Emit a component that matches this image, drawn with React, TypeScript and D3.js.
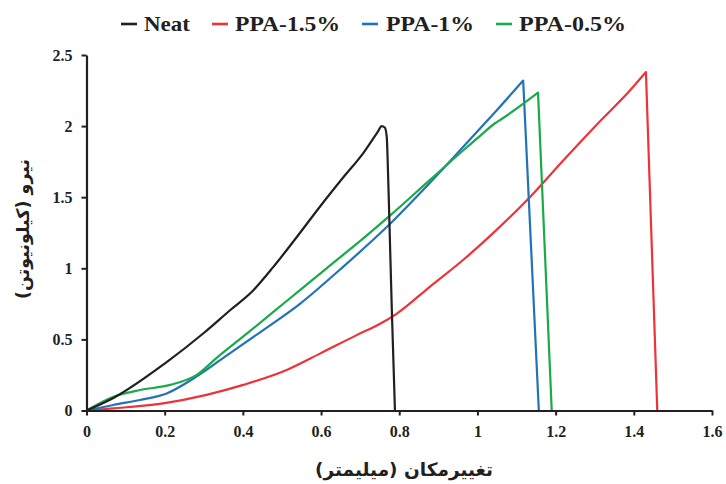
import React, { useRef, useEffect } from 'react';
import * as d3 from 'd3';

// series (displacement mm, force kN)
const seriesNames = ['Neat', 'PPA-1.5%', 'PPA-1%', 'PPA-0.5%'];
const seriesColors = ['#231f20', '#ee3338', '#2272b9', '#19aa4a'];

const neatX = [0, 0.07, 0.2, 0.3, 0.368, 0.423, 0.478, 0.538, 0.597, 0.657, 0.708, 0.745, 0.755, 0.763, 0.768, 0.771, 0.774, 0.781, 0.789];
const neatY = [0, 0.09, 0.33, 0.545, 0.707, 0.835, 1.01, 1.22, 1.433, 1.64, 1.81, 1.96, 2.0, 1.99, 1.925, 1.7, 1.41, 0.707, 0];

const ppa15X = [0, 0.069, 0.196, 0.307, 0.401, 0.512, 0.597, 0.691, 0.751, 0.793, 0.878, 0.964, 1.049, 1.134, 1.22, 1.305, 1.39, 1.431, 1.46];
const ppa15Y = [0, 0.015, 0.05, 0.11, 0.18, 0.285, 0.4, 0.53, 0.61, 0.68, 0.87, 1.06, 1.27, 1.5, 1.76, 2.01, 2.25, 2.38, 0];

const ppa1X = [0, 0.069, 0.137, 0.205, 0.282, 0.35, 0.444, 0.546, 0.648, 0.768, 0.878, 0.989, 1.049, 1.117, 1.157];
const ppa1Y = [0, 0.039, 0.074, 0.12, 0.24, 0.37, 0.55, 0.75, 0.99, 1.29, 1.6, 1.93, 2.11, 2.32, 0];

const ppa05X = [0, 0.069, 0.137, 0.214, 0.282, 0.333, 0.41, 0.512, 0.614, 0.708, 0.776, 0.878, 0.964, 1.006, 1.045, 1.062, 1.155, 1.19];
const ppa05Y = [0, 0.097, 0.144, 0.18, 0.25, 0.37, 0.54, 0.77, 1.0, 1.21, 1.37, 1.62, 1.83, 1.93, 2.02, 2.05, 2.235, 0];

const xTicks = [0, 0.2, 0.4, 0.6, 0.8, 1, 1.2, 1.4, 1.6];
const yTicks = [0, 0.5, 1, 1.5, 2, 2.5];

const xTitle = 'تغییرمکان (میلیمتر)';
const yTitle = 'نیرو (کیلونیوتن)';

const App = () => {
  const ref = useRef(null);

  useEffect(() => {
    if (ref.current) draw(ref);
  }, []);

  return (
    <svg
      ref={ref}
      width={726}
      height={484}
      style={{ position: 'absolute', left: 0, top: 0, background: '#fff' }}
    />
  );
};

export default App;

const draw = (svgRef) => {
  const svg = d3.select(svgRef.current);
  svg.selectAll('*').remove();

  const x = d3.scaleLinear().domain([0, 1.6]).range([86.5, 712]);
  const y = d3.scaleLinear().domain([0, 2.5]).range([410.5, 55]);
  const ink = '#231f20';
  const serif = '"Liberation Serif", "Times New Roman", serif';
  const persian = '"DejaVu Sans", "Noto Sans", sans-serif';

  const series = [
    { xs: neatX, ys: neatY, smoothAll: true },
    { xs: ppa15X, ys: ppa15Y },
    { xs: ppa1X, ys: ppa1Y },
    { xs: ppa05X, ys: ppa05Y }
  ];

  const smooth = d3
    .line()
    .x((d) => x(d[0]))
    .y((d) => y(d[1]))
    .curve(d3.curveMonotoneX);

  // draw order: red under, then blue, green, black on top
  [1, 2, 3, 0].forEach((i) => {
    const s = series[i];
    const pts = s.xs.map((v, k) => [v, s.ys[k]]);
    let d;
    if (s.smoothAll) {
      d = smooth(pts);
    } else {
      // smooth loading branch, then a straight drop at failure
      const last = pts[pts.length - 1];
      d = smooth(pts.slice(0, -1)) + `L${x(last[0])},${y(last[1])}`;
    }
    svg
      .append('path')
      .attr('d', d)
      .attr('fill', 'none')
      .attr('stroke', seriesColors[i])
      .attr('stroke-width', 2.2)
      .attr('stroke-linejoin', 'round');
  });

  const xAxis = svg
    .append('g')
    .attr('transform', `translate(0,${y(0)})`)
    .call(
      d3.axisBottom(x).tickValues(xTicks).tickSize(5).tickSizeOuter(0).tickPadding(10)
        .tickFormat(d3.format('~g'))
    );
  const yAxis = svg
    .append('g')
    .attr('transform', `translate(${x(0)},0)`)
    .call(
      d3.axisLeft(y).tickValues(yTicks).tickSize(5).tickSizeOuter(0).tickPadding(9)
        .tickFormat(d3.format('~g'))
    );

  [xAxis, yAxis].forEach((g) => {
    g.select('.domain').attr('stroke', ink).attr('stroke-width', 2.2);
    g.selectAll('.tick line').attr('stroke', ink).attr('stroke-width', 2);
    g.selectAll('.tick text')
      .attr('fill', ink)
      .style('font-family', serif)
      .style('font-weight', 'bold')
      .style('font-size', '16px');
  });

  // legend
  const legendPos = [
    { line: 121, text: 144, w: 46 },
    { line: 212, text: 235, w: 105 },
    { line: 362, text: 386, w: 88 },
    { line: 496, text: 519, w: 107 }
  ];
  seriesNames.forEach((name, i) => {
    svg
      .append('line')
      .attr('x1', legendPos[i].line)
      .attr('x2', legendPos[i].line + 16)
      .attr('y1', 24)
      .attr('y2', 24)
      .attr('stroke', seriesColors[i])
      .attr('stroke-width', 2.6);
    svg
      .append('text')
      .attr('x', legendPos[i].text)
      .attr('y', 31)
      .attr('fill', ink)
      .attr('textLength', legendPos[i].w)
      .attr('lengthAdjust', 'spacingAndGlyphs')
      .style('font-family', serif)
      .style('font-weight', 'bold')
      .style('font-size', '21px')
      .text(name);
  });

  svg
    .append('text')
    .attr('x', 404)
    .attr('y', 476)
    .attr('text-anchor', 'middle')
    .attr('direction', 'rtl')
    .attr('fill', ink)
    .style('font-family', persian)
    .style('font-weight', 'bold')
    .style('font-size', '18.5px')
    .text(xTitle);

  svg
    .append('text')
    .attr('transform', 'translate(29,229) rotate(-90)')
    .attr('text-anchor', 'middle')
    .attr('direction', 'rtl')
    .attr('fill', ink)
    .style('font-family', persian)
    .style('font-weight', 'bold')
    .style('font-size', '17.5px')
    .text(yTitle);

  return svg.node();
};
